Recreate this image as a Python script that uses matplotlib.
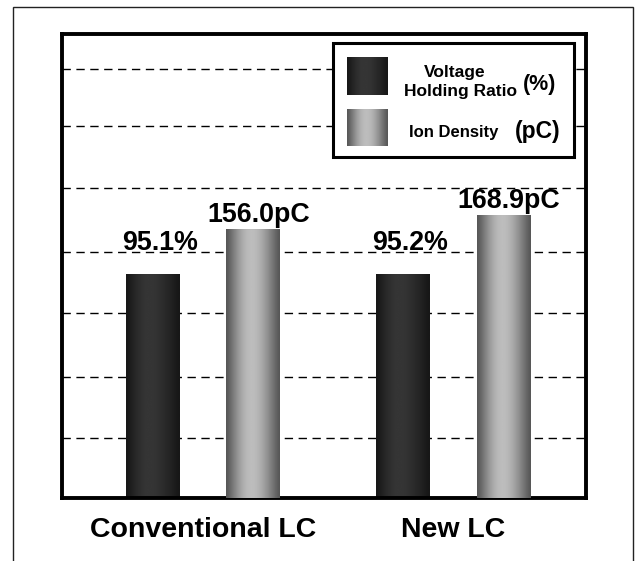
import matplotlib

matplotlib.use("Agg")
import matplotlib.pyplot as plt
import numpy as np
from matplotlib.patches import Rectangle

plt.rcParams["font.family"] = ["Liberation Sans", "DejaVu Sans"]
plt.rcParams["font.weight"] = "bold"

groups = ["Conventional LC", "New LC"]
vhr_pct = [95.1, 95.2]          # voltage holding ratio (%)
ion_pc = [156.0, 168.9]         # ion density (pC)
vhr_labels = ["95.1%", "95.2%"]
ion_labels = ["156.0pC", "168.9pC"]

W, H = 638, 561
fig = plt.figure(figsize=(W / 100, H / 100), dpi=100)
fig.patch.set_facecolor("white")

# main axes carries the % scale, twin carries pC
ax = fig.add_axes([61.5 / W, 1 - 497.5 / H, (586 - 61.5) / W, (497.5 - 34) / H])
ax2 = ax.twinx()
pct_lo, pct_hi = 0.0, 197.2
pc_lo, pc_hi = -91.5, 335.7


def cylinder(edge, peak, peak_at, n=80):
    t = np.linspace(0, 1, n)
    d = np.where(t < peak_at, (peak_at - t) / peak_at, (t - peak_at) / (1 - peak_at))
    v = edge + (peak - edge) * np.cos(d * np.pi / 2) ** 1.2
    return v[np.newaxis, :]


DARK = cylinder(0.09, 0.21, 0.42)
LIGHT = cylinder(0.34, 0.74, 0.47)


def shade_bars(axis, bars, grad):
    for b in bars:
        x0, y0 = b.get_x(), b.get_y()
        axis.imshow(grad, extent=[x0, x0 + b.get_width(), y0, y0 + b.get_height()],
                    aspect="auto", cmap="gray", vmin=0, vmax=1, zorder=2,
                    interpolation="bilinear")


x = np.arange(len(groups))
off, width = 0.2, 0.215

b1 = ax.bar(x - off, vhr_pct, width, color="none", linewidth=0)
b2 = ax2.bar(x + off, np.array(ion_pc) - pc_lo, width, bottom=pc_lo,
             color="none", linewidth=0)
shade_bars(ax, b1, DARK)
shade_bars(ax2, b2, LIGHT)

for b, lab in zip(b1, vhr_labels):
    ax.annotate(lab, (b.get_x() + b.get_width() / 2, b.get_height()),
                xytext=(5, 17), textcoords="offset points",
                ha="center", va="baseline", fontsize=19.3, fontweight="bold")
for b, v, lab in zip(b2, ion_pc, ion_labels):
    ax2.annotate(lab, (b.get_x() + b.get_width() / 2, v),
                 xytext=(4, 5), textcoords="offset points",
                 ha="center", va="baseline", fontsize=19.3, fontweight="bold")

# dashed reference lines (in % units)
grid_levels = [25.4, 51.4, 78.4, 104.6, 131.6, 158.2, 182.2]
ax.set_yticks(grid_levels)
ax.set_yticklabels([])
ax.set_axisbelow(True)
ax.grid(axis="y", color="black", linestyle=(0, (6, 4)), linewidth=1.0)
ax.tick_params(axis="y", length=0)
ax2.set_yticks([])

ax.set_xticks(x)
ax.set_xticklabels(groups, fontsize=20.5, fontweight="bold")
ax.tick_params(axis="x", length=0, pad=14)

ax.set_xlim(-0.565, 1.529)
ax.set_ylim(pct_lo, pct_hi)
ax2.set_ylim(pc_lo, pc_hi)

for s in ax.spines.values():
    s.set_linewidth(2.8)
for s in ax2.spines.values():
    s.set_visible(False)

# overlay in pixel coordinates: outer frame and legend box
ov = fig.add_axes([0, 0, 1, 1], zorder=5)
ov.set_axis_off()
ov.patch.set_alpha(0)
ov.plot([13, 13, 633, 633], [H, 7, 7, H], color="#222222", lw=1.0,
        solid_joinstyle="miter")
ov.add_patch(Rectangle((333, 43), 241, 114, facecolor="white",
                       edgecolor="black", lw=2.2, zorder=1))
ov.imshow(DARK, extent=[347, 388, 95, 57], aspect="auto", cmap="gray",
          vmin=0, vmax=1, zorder=2, interpolation="bilinear")
ov.imshow(LIGHT, extent=[347, 388, 146, 109], aspect="auto", cmap="gray",
          vmin=0, vmax=1, zorder=2, interpolation="bilinear")
ov.text(455, 72, "Voltage", ha="center", va="center", fontsize=12.5,
        fontweight="bold")
ov.text(460, 91, "Holding Ratio", ha="center", va="center", fontsize=12.5,
        fontweight="bold")
ov.text(540, 84, "(%)", ha="center", va="center", fontsize=15.5, fontweight="bold")
ov.text(454, 132, "Ion Density", ha="center", va="center", fontsize=12,
        fontweight="bold")
ov.text(538, 131, "(pC)", ha="center", va="center", fontsize=16.5, fontweight="bold")
ov.set_xlim(0, W)
ov.set_ylim(H, 0)

fig.savefig("out.png", dpi=100)
